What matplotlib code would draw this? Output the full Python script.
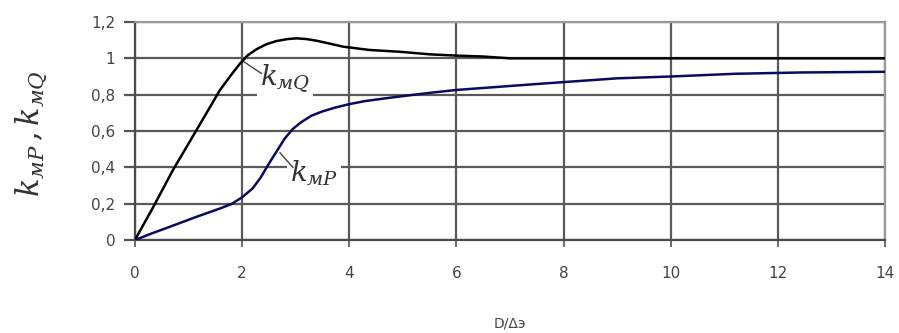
import matplotlib
matplotlib.use("Agg")
import matplotlib.pyplot as plt

plt.rcParams['mathtext.fontset'] = 'dejavuserif'

# k_MQ curve (black)
x_q = [0, 0.34, 0.71, 1.15, 1.59, 1.8, 1.96, 2.1, 2.27, 2.45, 2.64, 2.85, 3.02, 3.2, 3.39, 3.65, 3.89, 4.38, 4.95, 5.5, 6.0, 6.5, 7.0, 8, 10, 12, 14]
y_q = [0, 0.18, 0.385, 0.605, 0.826, 0.91, 0.97, 1.015, 1.05, 1.077, 1.095, 1.106, 1.11, 1.106, 1.097, 1.08, 1.064, 1.046, 1.036, 1.022, 1.015, 1.01, 1.0, 1.0, 1.0, 1.0, 1.0]

# k_MP curve (navy)
x_p = [0, 0.3, 0.65, 1.15, 1.59, 1.8, 2.0, 2.2, 2.35, 2.5, 2.65, 2.8, 2.95, 3.1, 3.3, 3.5, 3.75, 4.0, 4.3, 4.6, 4.94, 5.5, 6.0, 7.56, 9.0, 10.0, 11.2, 12.4, 14]
y_p = [0, 0.035, 0.073, 0.128, 0.174, 0.198, 0.235, 0.285, 0.345, 0.42, 0.49, 0.56, 0.612, 0.648, 0.685, 0.708, 0.73, 0.748, 0.765, 0.777, 0.79, 0.81, 0.826, 0.86, 0.89, 0.90, 0.915, 0.922, 0.926]

x_ticks = [0, 2, 4, 6, 8, 10, 12, 14]
y_ticks = [0, 0.2, 0.4, 0.6, 0.8, 1.0, 1.2]
y_tick_labels = ['0', '0,2', '0,4', '0,6', '0,8', '1', '1,2']

fig = plt.figure(figsize=(8.99, 3.33), dpi=100)
ax = fig.add_axes([0.150, 0.279, 0.8345, 0.655])

ax.set_xlim(0, 14)
ax.set_ylim(0, 1.2)
ax.set_xticks(x_ticks)
ax.set_yticks(y_ticks)
ax.set_yticklabels(y_tick_labels)

ax.grid(True, color='#5a5a5a', linewidth=1.6, zorder=0.5)
ax.set_axisbelow(True)
for s in ['top', 'right']:
    ax.spines[s].set_color('#9a9a9a')
    ax.spines[s].set_linewidth(1.6)
for s in ['left', 'bottom']:
    ax.spines[s].set_color('#4a4a4a')
    ax.spines[s].set_linewidth(1.6)

ax.tick_params(axis='x', length=5, width=1.2, color='#555555', labelsize=11,
               labelcolor='#444444', pad=14)
ax.tick_params(axis='y', length=8, width=1.6, color='#555555', labelsize=11,
               labelcolor='#444444', pad=6)

ax.plot(x_q, y_q, color='black', linewidth=1.8, zorder=4)
ax.plot(x_p, y_p, color='#0a0a5e', linewidth=1.8, zorder=4)

box = dict(facecolor='white', edgecolor='none', pad=2)
ax.plot([1.99, 2.36], [0.99, 0.917], color='#444444', linewidth=1.0, zorder=3)
ax.text(2.34, 0.885, r'$k_{мQ}$', fontsize=20, color='#333333', va='center',
        ha='left', bbox=box, zorder=2)
ax.plot([2.71, 2.95], [0.48, 0.40], color='#444444', linewidth=1.0, zorder=3)
ax.text(2.9, 0.365, r'$k_{мP}$', fontsize=20, color='#333333', va='center',
        ha='left', bbox=box, zorder=2)

fig.text(0.035, 0.6, r'$k_{мP}\,,k_{мQ}$', rotation=90, fontsize=22,
         color='#333333', va='center', ha='center')
ax.set_xlabel('D/Δэ', fontsize=10, color='#444444', labelpad=25)

fig.savefig('out.png', dpi=100)
